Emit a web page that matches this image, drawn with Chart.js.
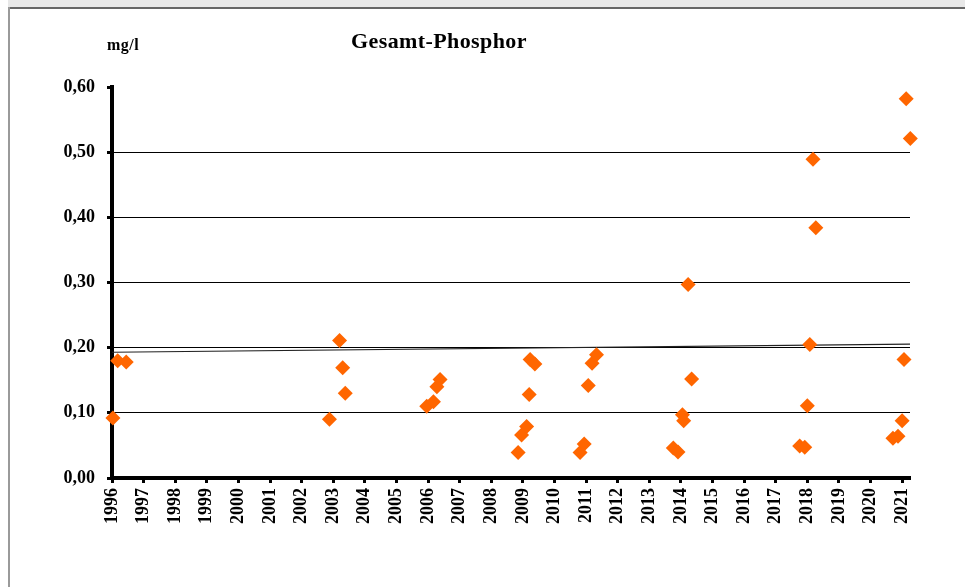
<!DOCTYPE html>
<html>
<head>
<meta charset="utf-8">
<script src="https://cdn.jsdelivr.net/npm/chart.js@4/dist/chart.umd.min.js"></script>
<style>
  body { margin: 0; background: #fff; }
  #wrap { position: relative; width: 965px; height: 587px; overflow: hidden; }
  #topband { position: absolute; left: 8px; top: 0; width: 957px; height: 7px; background: #e8e8e8; }
  #topline { position: absolute; left: 8px; top: 7px; width: 957px; height: 2px; background: #666; }
  #leftline { position: absolute; left: 8px; top: 7px; width: 2px; height: 580px; background: #9a9a9a; }
  .lbl { position: absolute; font-family: "Liberation Serif", "Times New Roman", serif; font-weight: bold; color: #000; white-space: nowrap; }
  #title { left: 351px; top: 28px; font-size: 22px; letter-spacing: 0.4px; }
  #unit { left: 107px; top: 36px; font-size: 16px; letter-spacing: 0.5px; }
  canvas { position: absolute; left: 0; top: 0; }
</style>
</head>
<body>
<div id="wrap">
  <div id="topband"></div>
  <div id="topline"></div>
  <div id="leftline"></div>
  <canvas id="phosChart" width="965" height="587"></canvas>
  <div class="lbl" id="title">Gesamt-Phosphor</div>
  <div class="lbl" id="unit">mg/l</div>
</div>
<script>
// sampling dates (decimal years) and total phosphorus values in mg/l
const sampleYears = [
  1996.03, 1996.18, 1996.45,
  2002.88, 2003.20, 2003.30, 2003.38,
  2005.96, 2006.17, 2006.28, 2006.38,
  2008.85, 2008.96, 2009.12, 2009.20, 2009.23, 2009.38,
  2010.81, 2010.94, 2011.07, 2011.19, 2011.33,
  2013.76, 2013.91, 2014.05, 2014.09, 2014.23, 2014.34,
  2017.76, 2017.92, 2018.00, 2018.08, 2018.18, 2018.27,
  2020.71, 2020.87, 2021.00, 2021.06, 2021.13, 2021.26
];
const phosphor = [
  0.092, 0.180, 0.178,
  0.090, 0.211, 0.169, 0.130,
  0.110, 0.117, 0.140, 0.151,
  0.039, 0.066, 0.079, 0.128, 0.182, 0.175,
  0.039, 0.052, 0.142, 0.176, 0.189,
  0.046, 0.040, 0.097, 0.088, 0.297, 0.152,
  0.049, 0.047, 0.111, 0.205, 0.489, 0.384,
  0.061, 0.064, 0.088, 0.182, 0.582, 0.521
];

// linear trend line, end points
const trendYears = [1996, 2021.25];
const trendValues = [0.193, 0.2055];

const years = [];
for (let y = 1996; y <= 2021; y++) years.push(y);
const yTicks = [0, 0.1, 0.2, 0.3, 0.4, 0.5, 0.6];

const font = { family: 'Liberation Serif', weight: 'bold', size: 18 };

var ctx = document.getElementById('phosChart').getContext('2d');

const phosChart = new Chart(ctx, {
    type: 'scatter',
    data: {
        datasets: [{
            label: 'Gesamt-Phosphor',
            data: sampleYears.map((x, i) => ({ x: x, y: phosphor[i] })),
            pointStyle: 'rectRot',
            pointRadius: 7.5,
            pointBackgroundColor: '#ff6600',
            pointBorderWidth: 0,
            showLine: false,
            clip: false,
            order: 1,
        }, {
            label: 'Trend',
            type: 'line',
            data: trendYears.map((x, i) => ({ x: x, y: trendValues[i] })),
            borderColor: '#222',
            borderWidth: 1.2,
            pointRadius: 0,
            order: 2,
        }]
    },
    options: {
        responsive: false,
        animation: false,
        layout: { padding: { left: 0, top: 87, right: 55, bottom: 49 } },
        plugins: {
            legend: { display: false },
            title: { display: false },
            tooltip: { enabled: false },
        },
        scales: {
            x: {
                type: 'linear',
                min: 1996,
                max: 2021.25,
                afterBuildTicks: (s) => { s.ticks = years.map(v => ({ value: v })); },
                afterFit: (s) => { s.height = 60; },
                border: { display: true, color: '#000', width: 4 },
                grid: {
                    drawOnChartArea: false,
                    color: '#000',
                    tickColor: '#000',
                    tickLength: 5,
                    tickWidth: 3,
                },
                ticks: {
                    minRotation: 90,
                    maxRotation: 90,
                    autoSkip: false,
                    padding: 5,
                    color: '#000',
                    font: font,
                    callback: (v) => String(v),
                }
            },
            y: {
                min: 0,
                max: 0.6,
                afterBuildTicks: (s) => { s.ticks = yTicks.map(v => ({ value: v })); },
                afterFit: (s) => { s.width = 112; },
                border: { display: true, color: '#000', width: 4 },
                grid: {
                    color: (c) => (c.tick && c.tick.value > 0.05 && c.tick.value < 0.55) ? '#000' : 'rgba(0,0,0,0)',
                    lineWidth: 1,
                    tickColor: '#000',
                    tickLength: 5,
                    tickWidth: 3,
                },
                ticks: {
                    padding: 12,
                    color: '#000',
                    font: font,
                    callback: (v) => v.toFixed(2).replace('.', ','),
                }
            }
        }
    }
});
</script>
</body>
</html>
